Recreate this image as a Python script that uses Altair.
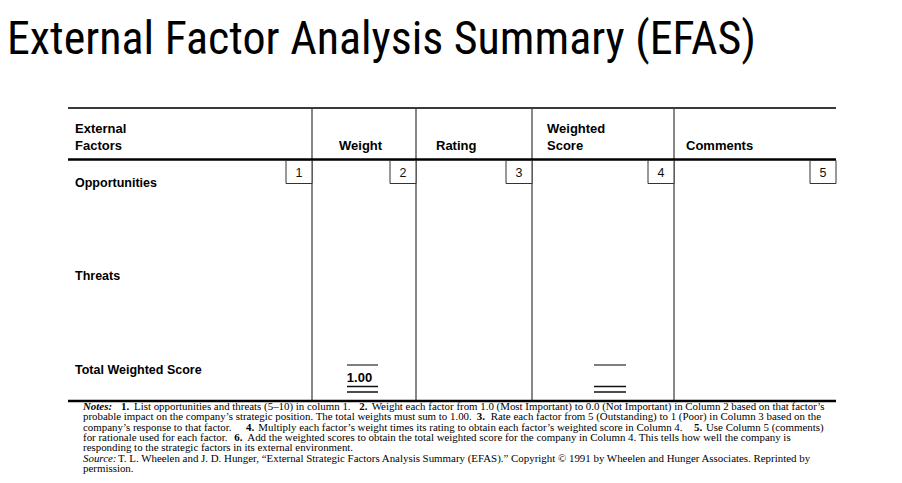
import altair as alt
import pandas as pd

# ---------------- content ----------------
TITLE = "External Factor Analysis Summary (EFAS)"
HEAD_LINE1 = ["External", "", "", "Weighted", ""]
HEAD_LINE2 = ["Factors", "Weight", "Rating", "Score", "Comments"]
COL_NUMBERS = ["1", "2", "3", "4", "5"]
ROW_LABELS = ["Opportunities", "Threats", "Total Weighted Score"]
TOTAL_WEIGHT = "1.00"

# notes: (line index, text, style)
NOTES = [
    (0, "Notes:", "bi"),
    (0, "1.", "b"),
    (0, "List opportunities and threats (5\u201310) in column 1.", "r"),
    (0, "2.", "b"),
    (0, "Weight each factor from 1.0 (Most Important) to 0.0 (Not Important) in Column 2 based on that factor\u2019s", "r"),
    (1, "probable impact on the company\u2019s strategic position. The total weights must sum to 1.00.", "r"),
    (1, "3.", "b"),
    (1, "Rate each factor from 5 (Outstanding) to 1 (Poor) in Column 3 based on the", "r"),
    (2, "company\u2019s response to that factor.", "r"),
    (2, "4.", "b"),
    (2, "Multiply each factor\u2019s weight times its rating to obtain each factor\u2019s weighted score in Column 4.", "r"),
    (2, "5.", "b"),
    (2, "Use Column 5 (comments)", "r"),
    (3, "for rationale used for each factor.", "r"),
    (3, "6.", "b"),
    (3, "Add the weighted scores to obtain the total weighted score for the company in Column 4. This tells how well the company is", "r"),
    (4, "responding to the strategic factors in its external environment.", "r"),
    (5, "Source:", "i"),
    (5, "T. L. Wheelen and J. D. Hunger, \u201cExternal Strategic Factors Analysis Summary (EFAS).\u201d Copyright \u00a9 1991 by Wheelen and Hunger Associates. Reprinted by", "r"),
    (6, "permission.", "r"),
]

# ---------------- layout (page pixel coordinates) ----------------
W, H = 886, 467
COL_EDGES = [68, 312, 416, 532, 674, 836]
HEAD_X = [75, 339, 436, 547, 686]
TABLE_TOP, HEAD_BOTTOM, TABLE_BOTTOM = 108, 159.5, 401
ROW_Y = [186.5, 280, 374]
BOX_W, BOX_H = 26, 23
TOTAL_X = {"weight": (347, 378), "score": (594, 626)}
TOTAL_Y = [365, 386.5, 392]
NOTE_Y0, NOTE_STEP = 410.0, 10.35
NOTE_SEG_X = [83, 121, 134, 359.3, 371.7,
              83, 476.7, 490.7,
              83, 246, 258.3, 694, 706,
              83, 234.3, 247.3,
              83,
              83, 118,
              83]

xs = alt.Scale(domain=[8, 8 + W], nice=False, zero=False)
ys = alt.Scale(domain=[8, 8 + H], nice=False, zero=False, reverse=True)


def X(f="x"):
    return alt.X(f"{f}:Q", scale=xs, axis=None)


def Y(f="y"):
    return alt.Y(f"{f}:Q", scale=ys, axis=None)


# rules
hrules_thin = pd.DataFrame({"x": [COL_EDGES[0]], "x2": [COL_EDGES[-1]], "y": [TABLE_TOP]})
hrules_thick = pd.DataFrame({"x": [COL_EDGES[0]] * 2, "x2": [COL_EDGES[-1]] * 2,
                             "y": [HEAD_BOTTOM, TABLE_BOTTOM]})
vrules = pd.DataFrame({"x": COL_EDGES[1:-1], "y": [TABLE_TOP] * 4, "y2": [TABLE_BOTTOM] * 4})

top_rule = alt.Chart(hrules_thin).mark_rule(color="#3a3a3a", strokeWidth=2).encode(
    x=X(), x2="x2:Q", y=Y())
thick_rules = alt.Chart(hrules_thick).mark_rule(color="#000000", strokeWidth=2.5).encode(
    x=X(), x2="x2:Q", y=Y())
v_rules = alt.Chart(vrules).mark_rule(color="#6a6a6a", strokeWidth=1.6).encode(
    x=X(), y=Y(), y2="y2:Q")

# number boxes
boxes = pd.DataFrame({
    "num": COL_NUMBERS,
    "x": [e - BOX_W for e in COL_EDGES[1:]],
    "x2": COL_EDGES[1:],
    "y": [HEAD_BOTTOM + 1] * 5,
    "y2": [HEAD_BOTTOM + 1 + BOX_H] * 5,
})
boxes["cx"] = (boxes["x"] + boxes["x2"]) / 2
boxes["ty"] = boxes["y"] + 16.5
box_rects = alt.Chart(boxes).mark_rect(fill="white", stroke="#333333", strokeWidth=1).encode(
    x=X(), x2="x2:Q", y=Y(), y2="y2:Q")
box_text = alt.Chart(boxes).mark_text(font="Liberation Sans", fontSize=12.5, align="center",
                                      baseline="alphabetic", color="#111").encode(
    x=X("cx"), y=Y("ty"), text="num:N")

# totals underline rules
tot_rows = []
for key, (a, b) in TOTAL_X.items():
    for i, yy in enumerate(TOTAL_Y):
        tot_rows.append({"x": a, "x2": b, "y": yy, "k": i})
tot = pd.DataFrame(tot_rows)
tot_top = alt.Chart(tot[tot.k == 0]).mark_rule(color="#555555", strokeWidth=1.5).encode(
    x=X(), x2="x2:Q", y=Y())
tot_low = alt.Chart(tot[tot.k > 0]).mark_rule(color="#111111", strokeWidth=1.5).encode(
    x=X(), x2="x2:Q", y=Y())

# header texts
head = pd.DataFrame({
    "x": HEAD_X * 2,
    "y": [133] * 5 + [149.5] * 5,
    "t": HEAD_LINE1 + HEAD_LINE2,
})
head = head[head.t != ""]
head_text = alt.Chart(head).mark_text(font="Liberation Sans", fontSize=13, fontWeight="bold",
                                      align="left", baseline="alphabetic", color="#000").encode(
    x=X(), y=Y(), text="t:N")

rows = pd.DataFrame({"x": [75] * 3, "y": ROW_Y, "t": ROW_LABELS})
row_text = alt.Chart(rows).mark_text(font="Liberation Sans", fontSize=12.5, fontWeight="bold",
                                     align="left", baseline="alphabetic", color="#000").encode(
    x=X(), y=Y(), text="t:N")

tw = pd.DataFrame({"x": [(TOTAL_X["weight"][0] + TOTAL_X["weight"][1]) / 2 - 3], "y": [382], "t": [TOTAL_WEIGHT]})
tw_text = alt.Chart(tw).mark_text(font="Liberation Sans", fontSize=13, fontWeight="bold",
                                  align="center", baseline="alphabetic", color="#000").encode(
    x=X(), y=Y(), text="t:N")

# title
title_df = pd.DataFrame({"x": [7], "y": [53.5], "t": [TITLE]})
title_text = alt.Chart(title_df).mark_text(
    font="Roboto Condensed, DejaVu Sans Condensed, Liberation Sans Narrow, Arial Narrow, Liberation Sans",
    fontSize=46, align="left", baseline="alphabetic", color="#000").encode(
    x=X(), y=Y(), text="t:N")

# notes
notes = pd.DataFrame(NOTES, columns=["line", "t", "style"])
notes["x"] = NOTE_SEG_X
notes["y"] = NOTE_Y0 + notes["line"] * NOTE_STEP
SERIF = "Liberation Serif"
NFS = 10.9


def note_layer(style, **kw):
    return alt.Chart(notes[notes["style"] == style]).mark_text(
        font=SERIF, fontSize=NFS, align="left", baseline="alphabetic", color="#000", **kw
    ).encode(x=X(), y=Y(), text="t:N")


notes_layers = [
    note_layer("r"),
    note_layer("b", fontWeight="bold"),
    note_layer("bi", fontWeight="bold", fontStyle="italic"),
    note_layer("i", fontStyle="italic"),
]

chart = alt.layer(
    title_text, v_rules, top_rule, thick_rules, box_rects, box_text,
    tot_top, tot_low, head_text, row_text, tw_text, *notes_layers,
).properties(width=W, height=H, padding=0, autosize="none", background="white"
).configure_view(stroke=None)

chart.save("out.html", embed_options={"renderer": "svg", "actions": False})
